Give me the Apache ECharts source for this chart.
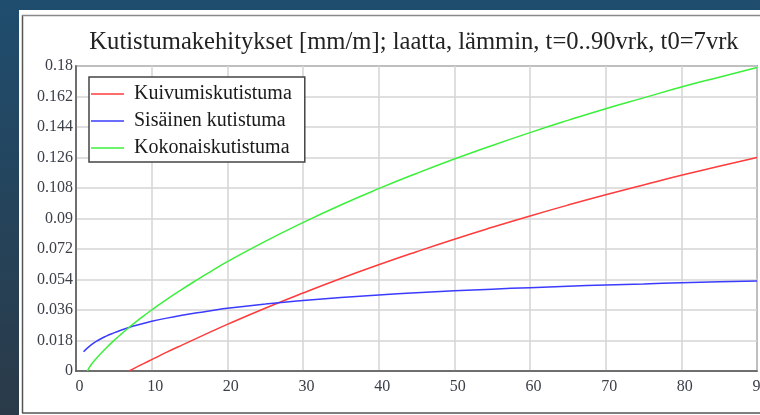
<!DOCTYPE html>
<html><head><meta charset="utf-8">
<script src="https://cdn.jsdelivr.net/npm/echarts@6/dist/echarts.min.js"></script>
<style>html,body{margin:0;padding:0;background:#24425a;}#c{width:760px;height:415px;}</style>
</head><body><div id="c"></div>
<script>
// time points (days)
var tDry = [7,8,9,10,12,14,16,18,20,25,30,35,40,45,50,55,60,65,70,75,80,85,90];
var dryShrink = [0,0.0023,0.0045,0.0067,0.0111,0.0153,0.0194,0.0235,0.0275,0.0370,0.0460,0.0546,0.0627,0.0704,0.0778,0.0848,0.0915,0.0979,0.1040,0.1098,0.1155,0.1208,0.1260];
var tAuto = [1,2,3,4,5,6,7,8,9,10,12,14,16,18,20,25,30,35,40,45,50,55,60,65,70,75,80,85,90];
var autoShrink = [0.0113,0.0154,0.0183,0.0206,0.0225,0.0242,0.0257,0.0270,0.0282,0.0293,0.0312,0.0329,0.0344,0.0357,0.0370,0.0395,0.0416,0.0434,0.0449,0.0462,0.0473,0.0483,0.0492,0.0500,0.0508,0.0514,0.0521,0.0526,0.0531];
var tTotal = [1.5,2,3,4,5,6,7,8,9,10,12,14,16,18,20,25,30,35,40,45,50,55,60,65,70,75,80,85,90];
var totalShrink = [0,0.0037,0.0090,0.0136,0.0179,0.0219,0.0257,0.0293,0.0327,0.0360,0.0423,0.0482,0.0538,0.0592,0.0645,0.0765,0.0876,0.0980,0.1076,0.1166,0.1251,0.1331,0.1407,0.1479,0.1548,0.1612,0.1676,0.1734,0.1791];
var seriesNames = ['Kuivumiskutistuma','Sisäinen kutistuma','Kokonaiskutistuma'];
var titleText = 'Kutistumakehitykset [mm/m]; laatta, lämmin, t=0..90vrk, t0=7vrk';

function zip(a,b){return a.map(function(x,i){return [x,b[i]];});}
var FONT = '"Liberation Serif", "Times New Roman", serif';
var chart = echarts.init(document.getElementById('c'));
chart.setOption({
  backgroundColor: new echarts.graphic.LinearGradient(0,0,0,1,[{offset:0,color:'#1f4d6e'},{offset:1,color:'#2a3a48'}]),
  animation:false,
  graphic:[
    {type:'rect',shape:{x:19,y:10,width:741,height:405},style:{fill:'#ffffff'},z:-10},
    {type:'line',shape:{x1:22.5,y1:15,x2:22.5,y2:413},style:{stroke:'#555',lineWidth:1.5},z:-9},
    {type:'line',shape:{x1:22,y1:15.5,x2:760,y2:15.5},style:{stroke:'#888',lineWidth:1.5},z:-9},
    {type:'line',shape:{x1:22,y1:413,x2:760,y2:413},style:{stroke:'#555',lineWidth:1.5},z:-9}
  ],
  title:{text:titleText,left:409,top:25,textAlign:'center',textStyle:{fontFamily:FONT,fontSize:24.6,fontWeight:'normal',color:'#222'}},
  legend:{orient:'vertical',left:89,top:77,data:seriesNames,icon:'rect',
    itemWidth:33,itemHeight:1.5,itemGap:7,padding:[7,13,4,2],
    backgroundColor:'#fff',borderColor:'#444',borderWidth:1.5,
    textStyle:{fontFamily:FONT,fontSize:20,color:'#1a1a1a',padding:[0,0,0,5]},
    z:10},
  grid:{left:76,top:66,right:3,bottom:44,outerBoundsMode:'none',containLabel:false,show:true,borderColor:'#555',borderWidth:1.5,backgroundColor:'transparent'},
  xAxis:{type:'value',min:0,max:90,interval:10,
    axisLine:{show:true,lineStyle:{color:'#555',width:1.5}},axisTick:{show:false},
    splitLine:{show:true,lineStyle:{color:'#d4d4d4',width:1.5}},
    axisLabel:{fontFamily:FONT,fontSize:16,color:'#3a3f48',margin:8,padding:[0,0,0,7]}},
  yAxis:{type:'value',min:0,max:0.18,interval:0.018,
    axisLine:{show:true,lineStyle:{color:'#555',width:1.5}},axisTick:{show:false},
    splitLine:{show:true,lineStyle:{color:'#d4d4d4',width:1.5}},
    axisLabel:{fontFamily:FONT,fontSize:16,color:'#3a3f48',margin:3,formatter:function(v){return String(+v.toFixed(3));}}},
  series:[
    {name:seriesNames[0],type:'line',data:zip(tDry,dryShrink),smooth:true,showSymbol:false,lineStyle:{color:'#ff3b3b',width:1.5},itemStyle:{color:'#ff3b3b'}},
    {name:seriesNames[1],type:'line',data:zip(tAuto,autoShrink),smooth:true,showSymbol:false,lineStyle:{color:'#3b3bff',width:1.5},itemStyle:{color:'#3b3bff'}},
    {name:seriesNames[2],type:'line',data:zip(tTotal,totalShrink),smooth:true,showSymbol:false,lineStyle:{color:'#3bf03b',width:1.5},itemStyle:{color:'#3bf03b'}}
  ]
});
</script></body></html>
